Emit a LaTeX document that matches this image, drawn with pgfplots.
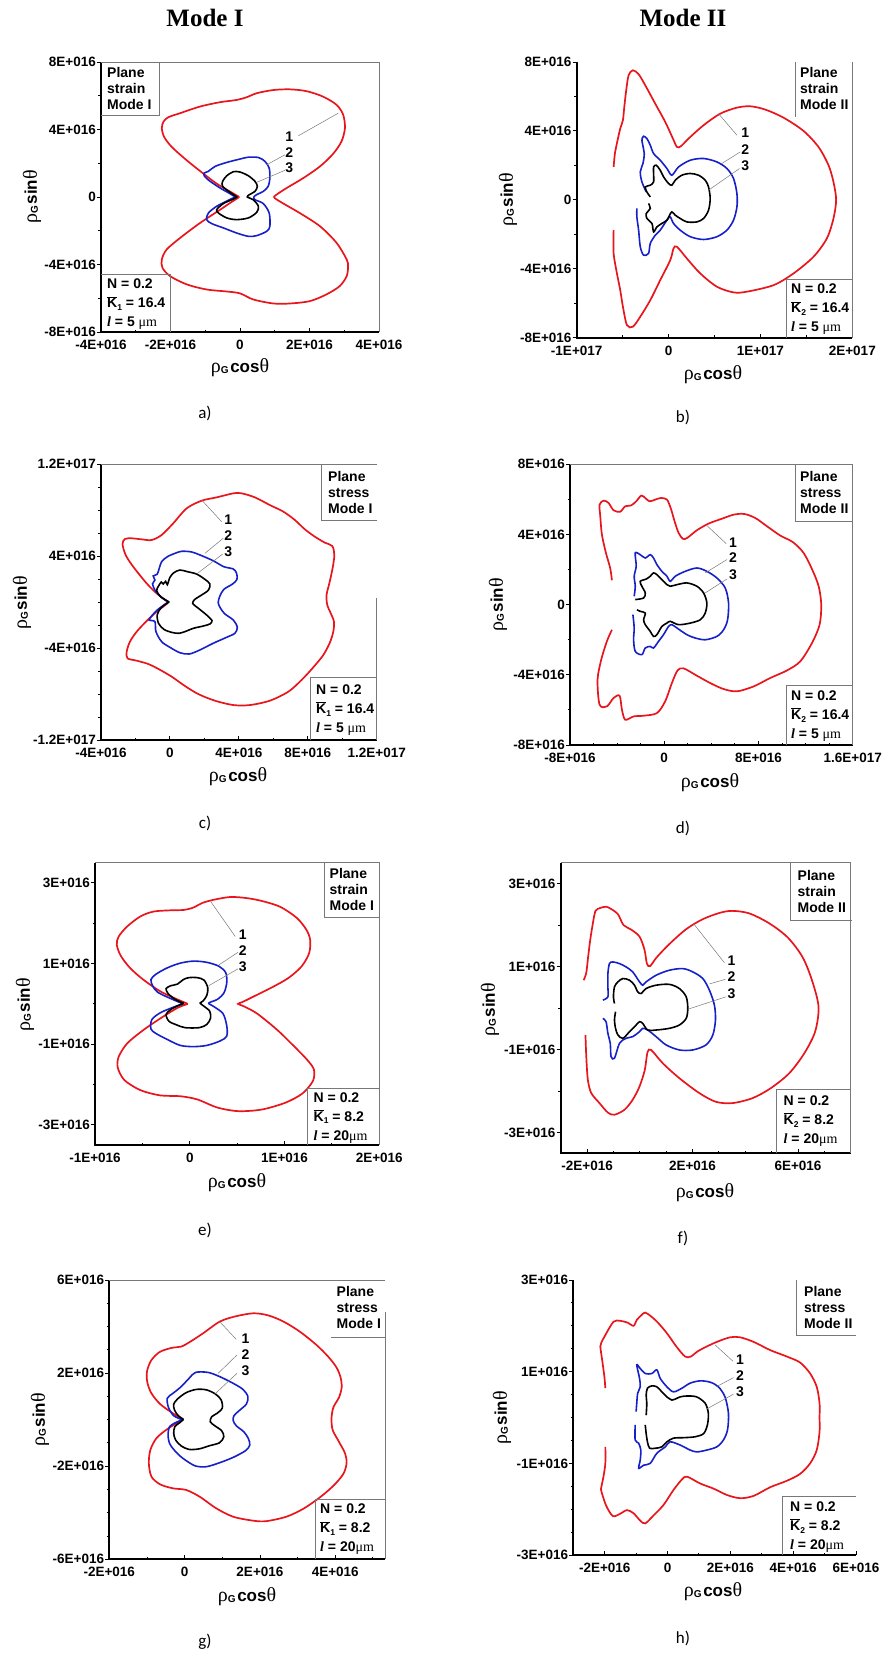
\documentclass[border=0pt]{standalone}
\usepackage{pgfplots}
\pgfplotsset{compat=1.18}
\usepackage{fontspec}
\setmainfont{Liberation Sans}
\newfontfamily\sym{Liberation Serif}
\newfontfamily\carl{Carlito}
\definecolor{cred}{RGB}{232,22,28}
\definecolor{cblue}{RGB}{22,32,200}
\definecolor{fr}{RGB}{120,120,120}
\newcommand\tk{\fontsize{13.5}{13.5}\selectfont\bfseries}
\newcommand\nm{\fontsize{14}{14}\selectfont\bfseries}
\newcommand\bt{\fontsize{14}{16}\selectfont\bfseries}
\newcommand\bn{\fontsize{14}{19}\selectfont\bfseries}
\newcommand\Kb[1]{$\overline{\hbox{K}}$\raisebox{-2.5pt}{\fontsize{8.5}{8.5}\selectfont #1}}
\newcommand\lab[1]{{\fontsize{20}{20}\selectfont\sym ρ}\raisebox{-1pt}{\fontsize{10}{10}\selectfont\bfseries G}\,{\fontsize{17}{17}\selectfont\bfseries #1}{\fontsize{20}{20}\selectfont\sym θ}}
\tikzset{ld/.style={fr, line width=0.5pt}}
\pgfplotsset{
  pan/.style={scale only axis, clip=false, anchor=south west,
    axis line style={draw=none}, tick pos=left,
    xtick align=inside, ytick align=outside,
    major tick length=4pt, minor tick length=2.5pt,
    tick style={black, line width=0.9pt},
    ticklabel style={font=\tk},
    xticklabel style={inner sep=0pt, yshift=-8pt},
    yticklabel style={inner sep=1pt},
    after end axis/.code={\draw[line width=1.8pt] (rel axis cs:0,1) -- (rel axis cs:0,0) -- (rel axis cs:1,0);}},
  c1/.style={cred, line width=1.7pt, smooth, tension=0.5},
  c2/.style={cblue, line width=1.6pt, smooth, tension=0.5},
  c3/.style={black, line width=1.6pt, smooth, tension=0.5},
}
\begin{document}
\begin{tikzpicture}[x=1pt,y=-1pt]
\path[use as bounding box] (0,0) rectangle (885,1658);

% ---------------- a ----------------
\begin{axis}[pan, at={(101pt,-332pt)}, width=278pt, height=270pt,
  xmin=-4, xmax=4, ymin=-8, ymax=8,
  xtick={-4,-2,0,2,4}, xticklabels={-4E+016,-2E+016,0,2E+016,4E+016},
  ytick={-8,-4,0,4,8}, yticklabels={-8E+016,-4E+016,0,4E+016,8E+016},
  minor xtick={-3,-1,1,3}, minor ytick={-6,-2,2,6}]
\addplot[c1] coordinates {(-0.02,0) (-0.29,0.33) (-0.67,0.79) (-1.05,1.38) (-1.53,2.17) (-1.96,2.96) (-2.18,3.55) (-2.25,4.08) (-2.20,4.47) (-2.06,4.73) (-1.72,4.97) (-1.15,5.36) (-0.57,5.62) (-0.10,5.75) (0.19,5.91) (0.48,6.15) (0.96,6.34) (1.44,6.38) (1.92,6.27) (2.39,5.95) (2.78,5.46) (2.97,4.87) (3.02,4.08) (2.92,3.29) (2.68,2.56) (2.30,1.81) (1.82,1.12) (1.34,0.53) (1.05,0.14) (0.98,0) (1.05,-0.14) (1.30,-0.45) (1.72,-0.95) (2.30,-1.73) (2.78,-2.72) (3.07,-3.70) (3.11,-4.10) (3.07,-4.69) (2.87,-5.28) (2.49,-5.77) (2.01,-6.17) (1.44,-6.31) (0.96,-6.31) (0.38,-6.07) (0,-5.71) (-0.38,-5.60) (-0.96,-5.48) (-1.53,-5.18) (-2.01,-4.69) (-2.23,-4.20) (-2.25,-3.70) (-2.11,-3.11) (-1.72,-2.42) (-1.15,-1.54) (-0.57,-0.75) (-0.29,-0.36) (-0.02,0)};
\addplot[c2] coordinates {(-0.14,0) (-0.29,0.20) (-0.57,0.53) (-0.86,0.93) (-1.02,1.22) (-1.03,1.42) (-0.91,1.52) (-0.72,1.81) (-0.38,2.05) (0,2.25) (0.24,2.36) (0.53,2.34) (0.72,2.11) (0.84,1.71) (0.86,1.12) (0.81,0.63) (0.67,0.33) (0.48,0.14) (0.40,0) (0.43,-0.16) (0.67,-0.39) (0.84,-0.95) (0.86,-1.73) (0.77,-2.03) (0.48,-2.29) (0.24,-2.33) (-0.10,-2.13) (-0.48,-1.83) (-0.81,-1.58) (-0.96,-1.34) (-0.91,-0.95) (-0.67,-0.55) (-0.34,-0.20) (-0.14,0)};
\addplot[c3] coordinates {(-0.08,0) (-0.29,0.28) (-0.50,0.63) (-0.50,0.93) (-0.38,1.26) (-0.19,1.50) (0,1.48) (0.24,1.26) (0.43,0.93) (0.50,0.63) (0.43,0.33) (0.27,0.14) (0.21,0) (0.38,-0.16) (0.53,-0.55) (0.48,-0.91) (0.24,-1.24) (-0.10,-1.34) (-0.38,-1.24) (-0.62,-0.95) (-0.67,-0.75) (-0.48,-0.39) (-0.19,-0.12) (-0.08,0)};
\draw[ld] (axis cs:1.68,3.63) -- (axis cs:2.83,4.97);
\draw[ld] (axis cs:1.29,2.50) -- (axis cs:0.77,1.91);
\draw[ld] (axis cs:1.29,1.58) -- (axis cs:0.48,0.87);
\node[font=\nm] at (axis cs:1.42,3.59) {1};
\node[font=\nm] at (axis cs:1.42,2.64) {2};
\node[font=\nm] at (axis cs:1.42,1.71) {3};
\end{axis}

% ---------------- b ----------------
\begin{axis}[pan, at={(576.7pt,-337.7pt)}, width=275.6pt, height=275.7pt,
  xmin=-10, xmax=20, ymin=-8, ymax=8,
  xtick={-10,0,10,20}, xticklabels={-1E+017,0,1E+017,2E+017},
  ytick={-8,-4,0,4,8}, yticklabels={-8E+016,-4E+016,0,4E+016,8E+016},
  minor xtick={-5,5,15}, minor ytick={-6,-2,2,6}]
\addplot[c1] coordinates {(-5.98,1.91) (-5.84,2.69) (-5.55,3.46) (-5.26,4.14) (-4.97,4.62) (-4.82,5.39) (-4.61,6.36) (-4.35,7.23) (-3.88,7.52) (-3.26,7.29) (-2.54,6.65) (-1.45,5.58) (-0.36,4.52) (0.47,3.56) (0.91,3.07) (1.34,3.11) (2.18,3.56) (3.81,4.33) (5.62,5.00) (7.44,5.35) (8.89,5.43) (10.52,5.24) (12.51,4.77) (14.69,4.00) (16.32,3.07) (17.41,2.01) (17.95,1.04) (18.24,0) (17.95,-1.08) (17.23,-2.24) (15.78,-3.30) (13.60,-4.27) (11.43,-4.95) (8.52,-5.33) (7.07,-5.37) (5.26,-5.04) (3.45,-4.27) (1.99,-3.40) (0.91,-2.72) (0.54,-2.82) (0.18,-3.50) (-0.91,-4.66) (-1.99,-5.82) (-3.08,-6.78) (-3.88,-7.36) (-4.53,-7.27) (-4.97,-6.20) (-5.26,-5.24) (-5.62,-4.27) (-5.98,-3.11) (-5.98,-1.76)};
\addplot[c2] coordinates {(-2.43,0.46) (-2.90,1.04) (-3.08,1.62) (-2.79,2.11) (-2.65,2.69) (-2.90,3.46) (-2.72,3.69) (-2.36,3.56) (-1.99,3.17) (-1.63,2.69) (-0.91,2.30) (-0.18,1.82) (0.36,1.43) (1.09,1.91) (2.36,2.30) (3.81,2.40) (5.26,2.20) (6.35,1.82) (7.07,1.24) (7.44,0.37) (7.44,-0.41) (7.07,-1.18) (6.35,-1.76) (5.26,-2.14) (3.81,-2.30) (2.36,-2.14) (1.27,-1.76) (0.54,-1.37) (0.18,-0.99) (-0.18,-1.18) (-0.91,-1.76) (-1.45,-2.05) (-1.99,-2.53) (-2.18,-3.11) (-2.72,-3.21) (-3.08,-2.72) (-3.26,-1.76) (-3.45,-0.99) (-3.45,-0.50)};
\addplot[c3] coordinates {(-1.99,0.17) (-2.36,0.46) (-2.54,0.75) (-1.99,0.85) (-1.63,1.04) (-1.63,1.53) (-1.63,1.91) (-1.34,2.01) (-0.91,1.72) (-0.54,1.33) (0,0.95) (0.36,0.85) (0.73,1.14) (1.45,1.43) (2.36,1.53) (3.26,1.43) (3.99,1.14) (4.35,0.75) (4.53,0.08) (4.35,-0.60) (3.81,-1.08) (3.08,-1.28) (1.99,-1.28) (1.27,-1.08) (0.73,-0.89) (0.36,-0.70) (0.11,-0.89) (-0.18,-1.18) (-0.73,-1.37) (-1.27,-1.57) (-1.63,-1.86) (-1.81,-1.37) (-2.36,-1.08) (-2.43,-0.79) (-1.99,-0.50) (-2.18,-0.21)};
\draw[ld] (axis cs:7.44,3.75) -- (axis cs:5.44,5.00);
\draw[ld] (axis cs:7.80,2.78) -- (axis cs:5.80,2.11);
\draw[ld] (axis cs:7.73,1.82) -- (axis cs:4.35,0.56);
\node[font=\nm] at (axis cs:8.34,3.88) {1};
\node[font=\nm] at (axis cs:8.34,2.94) {2};
\node[font=\nm] at (axis cs:8.34,2.01) {3};
\end{axis}

% ---------------- c ----------------
\begin{axis}[pan, at={(101pt,-740pt)}, width=275.7pt, height=276pt,
  xmin=-4, xmax=12, ymin=-12, ymax=12,
  xtick={-4,0,4,8,12}, xticklabels={-4E+016,0,4E+016,8E+016,1.2E+017},
  ytick={-12,-4,4,12}, yticklabels={-1.2E+017,-4E+016,4E+016,1.2E+017},
  minor xtick={-2,2,6,10}, minor ytick={-10,-8,-6,-2,0,2,6,8,10}]
\addplot[c1] coordinates {(-0.10,0) (-0.77,0.75) (-1.35,1.62) (-2.13,3.07) (-2.57,4.09) (-2.75,5.04) (-2.61,5.48) (-2.22,5.54) (-1.64,5.45) (-1.06,5.39) (-0.48,5.83) (0.19,6.84) (0.97,8.14) (1.84,8.81) (2.71,9.10) (3.68,9.45) (4.16,9.45) (4.93,9.10) (5.80,8.43) (6.58,7.86) (7.25,7.13) (7.83,6.32) (8.41,5.68) (8.99,5.16) (9.42,4.87) (9.54,4.09) (9.44,2.93) (9.25,1.62) (9.09,0.61) (9.13,-0.26) (9.32,-0.93) (9.52,-1.71) (9.48,-2.58) (9.28,-3.54) (8.90,-4.61) (8.32,-5.68) (7.64,-6.78) (6.87,-7.80) (5.80,-8.58) (4.64,-8.96) (3.68,-8.96) (2.61,-8.58) (1.64,-8.00) (0.87,-7.30) (0.10,-6.49) (-0.62,-5.86) (-1.26,-5.39) (-1.93,-5.10) (-2.46,-4.90) (-2.51,-4.32) (-2.32,-3.45) (-1.93,-2.58) (-1.35,-1.65) (-0.77,-0.84) (-0.19,-0.17) (-0.10,0)};
\addplot[c2] coordinates {(-0.10,0) (-0.54,0.46) (-0.85,0.99) (-1.01,1.57) (-0.87,1.91) (-0.97,2.26) (-0.74,2.41) (-0.62,2.93) (-0.48,3.51) (-0.15,3.94) (0.29,4.23) (0.68,4.41) (1.26,4.35) (1.84,4.03) (2.51,3.59) (3.13,3.07) (3.68,2.87) (3.87,2.49) (3.89,1.97) (3.64,1.57) (3.13,1.10) (2.90,0.52) (2.80,-0.06) (2.94,-0.55) (3.19,-1.04) (3.68,-1.57) (3.91,-2.20) (3.77,-2.72) (3.29,-3.07) (2.51,-3.59) (1.74,-4.17) (1.12,-4.52) (0.58,-4.41) (0,-3.94) (-0.48,-3.45) (-0.81,-2.58) (-0.87,-1.71) (-1.20,-1.57) (-1.06,-1.22) (-0.74,-0.70) (-0.35,-0.26) (-0.10,0)};
\addplot[c3] coordinates {(-0.04,0) (-0.54,0.46) (-0.77,0.99) (-0.66,1.39) (-0.50,1.74) (-0.39,1.57) (-0.25,1.80) (-0.15,1.51) (0,2.14) (0.23,2.55) (0.58,2.78) (1.01,2.64) (1.55,2.43) (2.03,1.97) (2.32,1.57) (2.24,1.04) (1.84,0.61) (1.45,0.23) (1.32,-0.12) (1.68,-0.58) (2.13,-1.13) (2.44,-1.62) (2.32,-1.91) (1.93,-2.09) (1.35,-2.29) (0.97,-2.52) (0.54,-2.72) (0.10,-2.64) (-0.35,-2.38) (-0.66,-1.86) (-0.74,-1.13) (-0.54,-0.55) (-0.23,-0.17) (-0.04,0)};
\draw[ld] (axis cs:3.00,6.99) -- (axis cs:1.84,8.87);
\draw[ld] (axis cs:3.09,5.54) -- (axis cs:2.03,4.23);
\draw[ld] (axis cs:3.06,4.17) -- (axis cs:1.55,2.43);
\node[font=\nm] at (axis cs:3.38,7.13) {1};
\node[font=\nm] at (axis cs:3.38,5.74) {2};
\node[font=\nm] at (axis cs:3.38,4.38) {3};
\end{axis}

% ---------------- d ----------------
\begin{axis}[pan, at={(570pt,-745pt)}, width=282.7pt, height=280.7pt,
  xmin=-8, xmax=16, ymin=-8, ymax=8,
  xtick={-8,0,8,16}, xticklabels={-8E+016,0,8E+016,1.6E+017},
  ytick={-8,-4,0,4,8}, yticklabels={-8E+016,-4E+016,0,4E+016,8E+016},
  minor xtick={-6,-4,-2,2,4,6,10,12,14}, minor ytick={-6,-2,2,6}]
\addplot[c1] coordinates {(-4.44,1.39) (-4.59,2.09) (-4.95,2.95) (-5.29,3.99) (-5.43,5.04) (-5.49,5.70) (-5.15,5.93) (-4.73,5.80) (-4.30,5.38) (-3.74,5.30) (-3.31,5.61) (-2.83,5.65) (-2.38,5.89) (-1.95,6.22) (-1.61,6.08) (-1.25,5.89) (-0.76,5.99) (-0.28,6.08) (0.23,5.99) (0.57,5.46) (0.88,4.75) (1.22,4.09) (1.59,3.75) (1.98,3.82) (2.77,4.24) (3.76,4.62) (4.90,4.90) (5.89,5.13) (6.79,5.17) (7.73,4.94) (8.72,4.47) (9.85,3.94) (10.93,3.56) (11.83,2.95) (12.54,2.03) (13.11,1.05) (13.33,0) (13.19,-1.14) (12.54,-2.19) (11.55,-3.23) (10.42,-3.75) (9.00,-4.18) (7.59,-4.66) (6.17,-4.94) (5.04,-4.81) (3.91,-4.47) (2.77,-4.05) (1.64,-3.63) (1.13,-3.75) (0.65,-4.47) (0.08,-5.51) (-0.62,-6.18) (-1.75,-6.33) (-2.60,-6.37) (-3.31,-6.56) (-3.59,-5.99) (-3.79,-5.19) (-4.30,-5.32) (-4.87,-5.80) (-5.49,-5.70) (-5.66,-4.28) (-5.35,-3.14) (-4.87,-2.09) (-4.44,-1.43)};
\addplot[c2] coordinates {(-2.55,0.48) (-2.46,1.05) (-2.55,1.62) (-2.38,2.19) (-2.46,2.95) (-2.04,2.85) (-1.61,2.66) (-1.19,2.85) (-0.91,2.66) (-0.62,2.28) (-0.20,1.90) (0.23,1.62) (0.51,1.33) (0.93,1.62) (1.78,1.90) (2.77,2.09) (3.62,1.90) (4.47,1.52) (5.18,0.95) (5.46,0.10) (5.38,-0.86) (5.04,-1.43) (4.47,-1.81) (3.48,-2.00) (2.63,-1.90) (1.92,-1.71) (1.08,-1.33) (0.65,-1.14) (0.37,-1.24) (-0.06,-1.71) (-0.48,-2.09) (-0.91,-2.47) (-1.19,-2.38) (-1.61,-2.47) (-1.90,-2.85) (-2.46,-2.66) (-2.60,-2.00) (-2.55,-1.33) (-2.66,-0.57)};
\addplot[c3] coordinates {(-2.46,0.29) (-1.75,0.38) (-1.61,0.67) (-1.90,1.05) (-2.04,1.33) (-1.53,1.46) (-1.19,1.62) (-0.91,1.81) (-0.62,1.71) (-0.20,1.43) (0.23,1.14) (0.51,1.05) (1.08,1.14) (1.92,1.24) (2.77,1.05) (3.34,0.67) (3.62,0.10) (3.48,-0.48) (3.06,-0.86) (2.21,-1.05) (1.22,-1.14) (0.51,-0.95) (0.23,-1.05) (-0.20,-1.24) (-0.62,-1.71) (-0.91,-1.81) (-1.19,-1.52) (-1.61,-1.14) (-1.75,-0.86) (-1.61,-0.48) (-2.04,-0.38) (-2.32,-0.29)};
\draw[ld] (axis cs:5.26,3.48) -- (axis cs:3.62,4.51);
\draw[ld] (axis cs:5.32,2.57) -- (axis cs:3.48,1.81);
\draw[ld] (axis cs:5.32,1.46) -- (axis cs:3.48,0.67);
\node[font=\nm] at (axis cs:5.83,3.56) {1};
\node[font=\nm] at (axis cs:5.83,2.66) {2};
\node[font=\nm] at (axis cs:5.83,1.71) {3};
\end{axis}

% ---------------- e ----------------
\begin{axis}[pan, at={(95pt,-1145pt)}, width=284.3pt, height=282.3pt,
  xmin=-1, xmax=2, ymin=-3.5, ymax=3.5,
  xtick={-1,0,1,2}, xticklabels={-1E+016,0,1E+016,2E+016},
  ytick={-3,-1,1,3}, yticklabels={-3E+016,-1E+016,1E+016,3E+016},
  minor xtick={-0.5,0.5,1.5}, minor ytick={-2,0,2}]
\addplot[c1] coordinates {(-0.02,0) (-0.13,0.11) (-0.31,0.31) (-0.49,0.60) (-0.63,0.89) (-0.73,1.20) (-0.77,1.47) (-0.75,1.67) (-0.66,1.92) (-0.52,2.17) (-0.38,2.29) (-0.20,2.32) (-0.06,2.33) (0.04,2.39) (0.13,2.50) (0.25,2.58) (0.43,2.65) (0.61,2.62) (0.78,2.54) (0.96,2.40) (1.13,2.13) (1.23,1.84) (1.27,1.59) (1.26,1.26) (1.18,0.93) (1.04,0.64) (0.86,0.40) (0.68,0.19) (0.56,0.05) (0.51,0) (0.57,-0.06) (0.71,-0.24) (0.92,-0.64) (1.10,-1.05) (1.24,-1.39) (1.31,-1.63) (1.30,-1.91) (1.19,-2.22) (1.01,-2.45) (0.76,-2.62) (0.51,-2.66) (0.29,-2.57) (0.08,-2.37) (-0.10,-2.29) (-0.31,-2.27) (-0.52,-2.14) (-0.69,-1.89) (-0.76,-1.58) (-0.75,-1.31) (-0.66,-0.98) (-0.49,-0.65) (-0.31,-0.36) (-0.13,-0.10) (-0.02,0)};
\addplot[c2] coordinates {(-0.07,0) (-0.20,0.13) (-0.34,0.29) (-0.39,0.44) (-0.41,0.60) (-0.36,0.73) (-0.24,0.89) (-0.10,1.01) (0.04,1.06) (0.18,1.03) (0.31,0.93) (0.38,0.77) (0.39,0.52) (0.36,0.27) (0.29,0.11) (0.20,0.02) (0.25,-0.06) (0.35,-0.24) (0.39,-0.54) (0.39,-0.80) (0.32,-0.92) (0.18,-1.03) (0.04,-1.06) (-0.10,-1.03) (-0.24,-0.88) (-0.36,-0.73) (-0.41,-0.62) (-0.40,-0.39) (-0.31,-0.22) (-0.17,-0.08) (-0.07,0)};
\addplot[c3] coordinates {(-0.06,0.01) (-0.16,0.12) (-0.23,0.26) (-0.25,0.38) (-0.20,0.45) (-0.13,0.49) (-0.07,0.60) (-0.01,0.65) (0.08,0.65) (0.15,0.59) (0.19,0.40) (0.18,0.21) (0.14,0.07) (0.11,0.02) (0.15,-0.06) (0.21,-0.18) (0.22,-0.35) (0.18,-0.51) (0.10,-0.59) (-0.05,-0.59) (-0.14,-0.52) (-0.22,-0.43) (-0.25,-0.26) (-0.20,-0.14) (-0.12,-0.04) (-0.06,0.01)};
\draw[ld] (axis cs:0.48,1.67) -- (axis cs:0.22,2.54);
\draw[ld] (axis cs:0.51,1.28) -- (axis cs:0.31,0.97);
\draw[ld] (axis cs:0.51,0.87) -- (axis cs:0.20,0.45);
\node[font=\nm] at (axis cs:0.56,1.72) {1};
\node[font=\nm] at (axis cs:0.56,1.32) {2};
\node[font=\nm] at (axis cs:0.56,0.92) {3};
\end{axis}

% ---------------- f ----------------
\begin{axis}[pan, at={(560.7pt,-1153.3pt)}, width=290pt, height=290.6pt,
  xmin=-3, xmax=8, ymin=-3.5, ymax=3.5,
  xtick={-2,2,6}, xticklabels={-2E+016,2E+016,6E+016},
  ytick={-3,-1,1,3}, yticklabels={-3E+016,-1E+016,1E+016,3E+016},
  minor xtick={-1,0,1,3,4,5,7}, minor ytick={-2,0,2}]
\addplot[c1] coordinates {(-2.13,0.67) (-2.03,0.85) (-1.96,1.23) (-1.88,1.64) (-1.78,2.04) (-1.68,2.34) (-1.50,2.41) (-1.28,2.44) (-1.10,2.39) (-0.83,2.26) (-0.62,2.00) (-0.33,1.89) (-0.01,1.72) (0.18,1.40) (0.27,1.07) (0.39,1.01) (0.64,1.22) (1.12,1.54) (1.76,1.90) (2.39,2.14) (3.02,2.29) (3.50,2.34) (4.15,2.28) (4.91,2.04) (5.61,1.70) (6.17,1.23) (6.53,0.67) (6.78,0.03) (6.65,-0.57) (6.24,-1.09) (5.67,-1.57) (4.97,-1.93) (4.28,-2.17) (3.52,-2.29) (2.89,-2.26) (2.26,-2.05) (1.50,-1.69) (0.87,-1.33) (0.43,-1.01) (0.29,-1.07) (0.19,-1.49) (-0.01,-1.89) (-0.27,-2.21) (-0.58,-2.45) (-0.96,-2.57) (-1.21,-2.52) (-1.53,-2.29) (-1.84,-2.05) (-1.97,-1.73) (-2.03,-1.17) (-2.06,-0.65)};
\addplot[c2] coordinates {(-1.40,0.19) (-1.21,0.27) (-1.21,0.51) (-1.21,0.83) (-1.15,1.07) (-1.02,1.11) (-0.77,1.07) (-0.52,0.99) (-0.27,0.87) (-0.01,0.63) (0.11,0.55) (0.24,0.63) (0.62,0.79) (1.12,0.91) (1.63,0.95) (2.01,0.87) (2.39,0.71) (2.64,0.43) (2.83,0.07) (2.87,-0.29) (2.77,-0.65) (2.51,-0.89) (2.01,-1.01) (1.50,-1.01) (1.00,-0.89) (0.62,-0.69) (0.30,-0.53) (0.11,-0.49) (-0.01,-0.57) (-0.27,-0.69) (-0.52,-0.73) (-0.77,-0.85) (-0.96,-1.21) (-1.09,-1.17) (-1.12,-0.85) (-1.21,-0.61) (-1.28,-0.33) (-1.40,-0.25)};
\addplot[c3] coordinates {(-0.96,0.11) (-1.00,0.27) (-0.96,0.51) (-0.83,0.63) (-0.64,0.71) (-0.39,0.67) (-0.20,0.55) (-0.08,0.39) (0.05,0.35) (0.24,0.47) (0.62,0.55) (1.12,0.57) (1.50,0.47) (1.76,0.27) (1.82,-0.01) (1.76,-0.25) (1.50,-0.41) (1.12,-0.49) (0.62,-0.53) (0.30,-0.53) (0.11,-0.37) (-0.01,-0.33) (-0.14,-0.41) (-0.39,-0.57) (-0.64,-0.73) (-0.83,-0.65) (-0.92,-0.49) (-0.96,-0.29) (-0.92,-0.09)};
\draw[ld] (axis cs:3.21,1.09) -- (axis cs:2.03,2.04);
\draw[ld] (axis cs:3.24,0.69) -- (axis cs:2.64,0.58);
\draw[ld] (axis cs:3.27,0.27) -- (axis cs:1.82,-0.03);
\node[font=\nm] at (axis cs:3.48,1.15) {1};
\node[font=\nm] at (axis cs:3.48,0.75) {2};
\node[font=\nm] at (axis cs:3.48,0.35) {3};
\end{axis}

% ---------------- g ----------------
\begin{axis}[pan, at={(109.3pt,-1559.3pt)}, width=275.7pt, height=279.3pt,
  xmin=-2, xmax=5.32, ymin=-6, ymax=6,
  xtick={-2,0,2,4}, xticklabels={-2E+016,0,2E+016,4E+016},
  ytick={-6,-2,2,6}, yticklabels={-6E+016,-2E+016,2E+016,6E+016},
  minor xtick={-1,1,3,5}, minor ytick={-5,-4,-3,-1,0,1,3,4,5}]
\addplot[c1] coordinates {(-0.04,0) (-0.31,0.27) (-0.65,0.67) (-0.88,1.13) (-0.99,1.60) (-1.00,2.06) (-0.89,2.54) (-0.66,2.91) (-0.33,3.09) (-0.09,3.14) (0.15,3.35) (0.49,3.71) (0.93,4.21) (1.33,4.43) (1.82,4.57) (2.22,4.48) (2.63,4.21) (3.06,3.78) (3.50,3.21) (3.81,2.71) (4.03,2.25) (4.14,1.82) (4.17,1.39) (4.10,0.96) (3.95,0.53) (3.90,0.06) (3.93,-0.44) (4.08,-0.90) (4.26,-1.45) (4.30,-1.88) (4.21,-2.34) (3.95,-2.84) (3.59,-3.34) (3.15,-3.83) (2.70,-4.17) (2.17,-4.36) (1.82,-4.34) (1.29,-4.17) (0.84,-3.81) (0.40,-3.31) (0.04,-3.02) (-0.31,-2.95) (-0.65,-2.78) (-0.88,-2.45) (-0.95,-1.88) (-0.91,-1.30) (-0.75,-0.80) (-0.49,-0.44) (-0.22,-0.16) (-0.04,0)};
\addplot[c2] coordinates {(-0.06,0) (-0.29,0.17) (-0.43,0.53) (-0.46,0.92) (-0.31,1.13) (-0.09,1.42) (0.12,1.78) (0.29,2.03) (0.62,2.03) (0.93,1.85) (1.29,1.56) (1.55,1.30) (1.68,0.99) (1.64,0.67) (1.45,0.39) (1.31,0.17) (1.29,-0.04) (1.37,-0.26) (1.57,-0.52) (1.69,-0.80) (1.73,-1.09) (1.62,-1.33) (1.29,-1.62) (0.93,-1.85) (0.58,-2.02) (0.29,-1.99) (0.04,-1.76) (-0.13,-1.55) (-0.29,-1.28) (-0.40,-1.02) (-0.44,-0.66) (-0.40,-0.30) (-0.24,-0.13) (-0.06,0)};
\addplot[c3] coordinates {(-0.03,0.01) (-0.18,0.19) (-0.27,0.42) (-0.29,0.67) (-0.18,0.90) (0.04,1.16) (0.31,1.30) (0.58,1.28) (0.82,1.10) (0.97,0.85) (1.00,0.50) (0.86,0.27) (0.72,0.13) (0.68,-0.09) (0.80,-0.26) (0.98,-0.47) (1.04,-0.73) (0.93,-0.99) (0.66,-1.12) (0.40,-1.25) (0.13,-1.28) (-0.09,-1.13) (-0.24,-0.87) (-0.29,-0.59) (-0.26,-0.30) (-0.13,-0.13) (-0.03,0.01)};
\draw[ld] (axis cs:1.37,3.45) -- (axis cs:0.93,4.21);
\draw[ld] (axis cs:1.39,2.78) -- (axis cs:0.89,1.99);
\draw[ld] (axis cs:1.39,1.99) -- (axis cs:0.80,1.10);
\node[font=\nm] at (axis cs:1.62,3.50) {1};
\node[font=\nm] at (axis cs:1.62,2.78) {2};
\node[font=\nm] at (axis cs:1.62,2.11) {3};
\end{axis}

% ---------------- h ----------------
\begin{axis}[pan, at={(573.3pt,-1555pt)}, width=282.7pt, height=275pt,
  xmin=-3, xmax=6, ymin=-3, ymax=3,
  xtick={-2,0,2,4,6}, xticklabels={-2E+016,0,2E+016,4E+016,6E+016},
  ytick={-3,-1,1,3}, yticklabels={-3E+016,-1E+016,1E+016,3E+016},
  minor xtick={-1,1,3,5}, minor ytick={-2.5,-2,-1.5,-0.5,0,0.5,1.5,2,2.5}]
\addplot[c1] coordinates {(-1.98,0.64) (-2.01,0.89) (-2.08,1.25) (-2.14,1.55) (-2.11,1.63) (-1.98,1.80) (-1.72,2.09) (-1.51,2.11) (-1.27,2.07) (-1.08,2.00) (-0.98,2.13) (-0.82,2.24) (-0.71,2.29) (-0.53,2.21) (-0.32,2.08) (-0.02,1.84) (0.28,1.55) (0.56,1.33) (0.74,1.33) (0.95,1.44) (1.25,1.55) (1.57,1.65) (1.99,1.75) (2.31,1.75) (2.74,1.65) (3.27,1.47) (3.80,1.33) (4.22,1.20) (4.54,0.96) (4.75,0.67) (4.84,0.31) (4.84,0) (4.84,-0.31) (4.75,-0.71) (4.54,-1.00) (4.22,-1.23) (3.80,-1.38) (3.27,-1.52) (2.74,-1.71) (2.31,-1.76) (1.89,-1.69) (1.46,-1.55) (1.04,-1.44) (0.62,-1.29) (0.46,-1.35) (0.19,-1.58) (-0.13,-1.91) (-0.45,-2.14) (-0.71,-2.31) (-0.87,-2.25) (-1.08,-2.09) (-1.29,-2.02) (-1.51,-2.10) (-1.74,-2.15) (-1.95,-1.93) (-2.09,-1.65) (-2.12,-1.57) (-2.04,-1.29) (-1.98,-1.00) (-1.98,-0.64)};
\addplot[c2] coordinates {(-1.00,0.13) (-0.98,0.31) (-0.95,0.53) (-0.87,0.67) (-0.89,0.85) (-0.98,1.15) (-0.87,1.07) (-0.71,0.96) (-0.50,0.96) (-0.34,1.04) (-0.23,0.85) (-0.02,0.67) (0.19,0.56) (0.46,0.64) (0.72,0.75) (1.04,0.80) (1.36,0.77) (1.62,0.67) (1.83,0.45) (1.94,0.09) (1.91,-0.27) (1.78,-0.49) (1.57,-0.64) (1.25,-0.71) (0.93,-0.75) (0.72,-0.71) (0.40,-0.60) (0.08,-0.53) (-0.07,-0.64) (-0.34,-0.78) (-0.55,-1.00) (-0.76,-1.04) (-0.92,-1.11) (-0.87,-0.93) (-0.85,-0.71) (-0.92,-0.56) (-1.03,-0.49) (-1.03,-0.16)};
\addplot[c3] coordinates {(-0.68,0.05) (-0.66,0.31) (-0.68,0.49) (-0.64,0.64) (-0.50,0.69) (-0.34,0.67) (-0.18,0.56) (-0.02,0.45) (0.14,0.38) (0.24,0.40) (0.40,0.45) (0.62,0.47) (0.93,0.45) (1.20,0.31) (1.30,0.09) (1.27,-0.16) (1.15,-0.35) (0.88,-0.42) (0.51,-0.44) (0.19,-0.45) (-0.02,-0.53) (-0.18,-0.64) (-0.39,-0.67) (-0.57,-0.67) (-0.64,-0.53) (-0.68,-0.35) (-0.71,-0.16)};
\draw[ld] (axis cs:2.08,1.23) -- (axis cs:1.52,1.58);
\draw[ld] (axis cs:2.10,0.87) -- (axis cs:1.55,0.67);
\draw[ld] (axis cs:2.10,0.51) -- (axis cs:1.23,0.18);
\node[font=\nm] at (axis cs:2.31,1.27) {1};
\node[font=\nm] at (axis cs:2.31,0.92) {2};
\node[font=\nm] at (axis cs:2.31,0.57) {3};
\end{axis}

% ---------------- frames and boxes ----------------
\begin{scope}[fr, line width=0.8pt]
\draw (101,62) -- (379,62) -- (379,332);
\draw (159,62) -- (159,115) -- (101,115);
\draw (101,274) -- (170,274) -- (170,332);
\draw (852.3,62) -- (852.3,337.7);
\draw (795,62) -- (795,117);
\draw (786.7,337.7) -- (786.7,279) -- (852.3,279);
\draw (101,464) -- (376.7,464);
\draw (376.7,598.3) -- (376.7,740);
\draw (321.7,464) -- (321.7,520.7) -- (376.7,520.7);
\draw (310.7,740) -- (310.7,677.7) -- (376.7,677.7);
\draw (570,464.3) -- (852.7,464.3) -- (852.7,745);
\draw (795,464.3) -- (795,521) -- (852.7,521);
\draw (786.7,745) -- (786.7,685.7) -- (852.7,685.7);
\draw (95,862.7) -- (379.3,862.7) -- (379.3,1145);
\draw (324,862.7) -- (324,917.3) -- (379.3,917.3);
\draw (307.3,1145) -- (307.3,1088.3) -- (379.3,1088.3);
\draw (560.7,862.7) -- (850.7,862.7) -- (850.7,1153.3);
\draw (790.7,862.7) -- (790.7,920) -- (851.7,920);
\draw (776.7,1153.3) -- (776.7,1089.3) -- (850.7,1089.3);
\draw (109.3,1280) -- (385,1280);
\draw (385,1311.7) -- (385,1559.3);
\draw (331,1337.3) -- (385,1337.3);
\draw (315.7,1559.3) -- (315.7,1499.3) -- (385,1499.3);
\draw (796.7,1280) -- (796.7,1335) -- (856,1335);
\draw (782.7,1555) -- (782.7,1496.7) -- (856,1496.7);
\end{scope}

\tikzset{bx/.style={anchor=north west, inner sep=0pt, align=left}}
\node[bx, font=\bt] at (107,67) {Plane\\strain\\Mode I};
\node[bx, font=\bn] at (107,279) {N = 0.2\\\Kb{1} = 16.4\\{\sym\itshape l} = 5 {\sym\mdseries μm}};
\node[bx, font=\bt] at (800,67.3) {Plane\\strain\\Mode II};
\node[bx, font=\bn] at (791,284) {N = 0.2\\\Kb{2} = 16.4\\{\sym\itshape l} = 5 {\sym\mdseries μm}};
\node[bx, font=\bt] at (328,470.7) {Plane\\stress\\Mode I};
\node[bx, font=\bn] at (316,684.7) {N = 0.2\\\Kb{1} = 16.4\\{\sym\itshape l} = 5 {\sym\mdseries μm}};
\node[bx, font=\bt] at (800,470.7) {Plane\\stress\\Mode II};
\node[bx, font=\bn] at (791,690.7) {N = 0.2\\\Kb{2} = 16.4\\{\sym\itshape l} = 5 {\sym\mdseries μm}};
\node[bx, font=\bt] at (329.5,868.3) {Plane\\strain\\Mode I};
\node[bx, font=\bn] at (313.5,1092.3) {N = 0.2\\\Kb{1} = 8.2\\{\sym\itshape l} = 20{\sym\mdseries μm}};
\node[bx, font=\bt] at (797.5,869.7) {Plane\\strain\\Mode II};
\node[bx, font=\bn] at (783.5,1095.7) {N = 0.2\\\Kb{2} = 8.2\\{\sym\itshape l} = 20{\sym\mdseries μm}};
\node[bx, font=\bt] at (336.5,1285.7) {Plane\\stress\\Mode I};
\node[bx, font=\bn] at (320,1504) {N = 0.2\\\Kb{1} = 8.2\\{\sym\itshape l} = 20{\sym\mdseries μm}};
\node[bx, font=\bt] at (804,1285.7) {Plane\\stress\\Mode II};
\node[bx, font=\bn] at (790,1501.7) {N = 0.2\\\Kb{2} = 8.2\\{\sym\itshape l} = 20{\sym\mdseries μm}};

\node[font=\fontsize{25}{25}\selectfont\sym\bfseries] at (205,18) {Mode I};
\node[font=\fontsize{25}{25}\selectfont\sym\bfseries] at (683,18) {Mode II};

\node at (240,368) {\lab{cos}};
\node at (713,375) {\lab{cos}};
\node at (238,777) {\lab{cos}};
\node at (710,783) {\lab{cos}};
\node at (237,1183) {\lab{cos}};
\node at (705,1193) {\lab{cos}};
\node at (247,1597) {\lab{cos}};
\node at (713,1592) {\lab{cos}};
\node[rotate=90] at (32,197) {\lab{sin}};
\node[rotate=90] at (508,200) {\lab{sin}};
\node[rotate=90] at (22,603) {\lab{sin}};
\node[rotate=90] at (498,605) {\lab{sin}};
\node[rotate=90] at (25,1005) {\lab{sin}};
\node[rotate=90] at (490,1010) {\lab{sin}};
\node[rotate=90] at (40,1420) {\lab{sin}};
\node[rotate=90] at (502,1418) {\lab{sin}};

\tikzset{pl/.style={font=\carl\fontsize{17}{17}\selectfont}}
\node[pl] at (205,413) {a)};
\node[pl] at (683,417) {b)};
\node[pl] at (205,823) {c)};
\node[pl] at (683,828) {d)};
\node[pl] at (205,1230) {e)};
\node[pl] at (683,1238) {f)};
\node[pl] at (205,1642) {g)};
\node[pl] at (683,1638) {h)};
\end{tikzpicture}
\end{document}
